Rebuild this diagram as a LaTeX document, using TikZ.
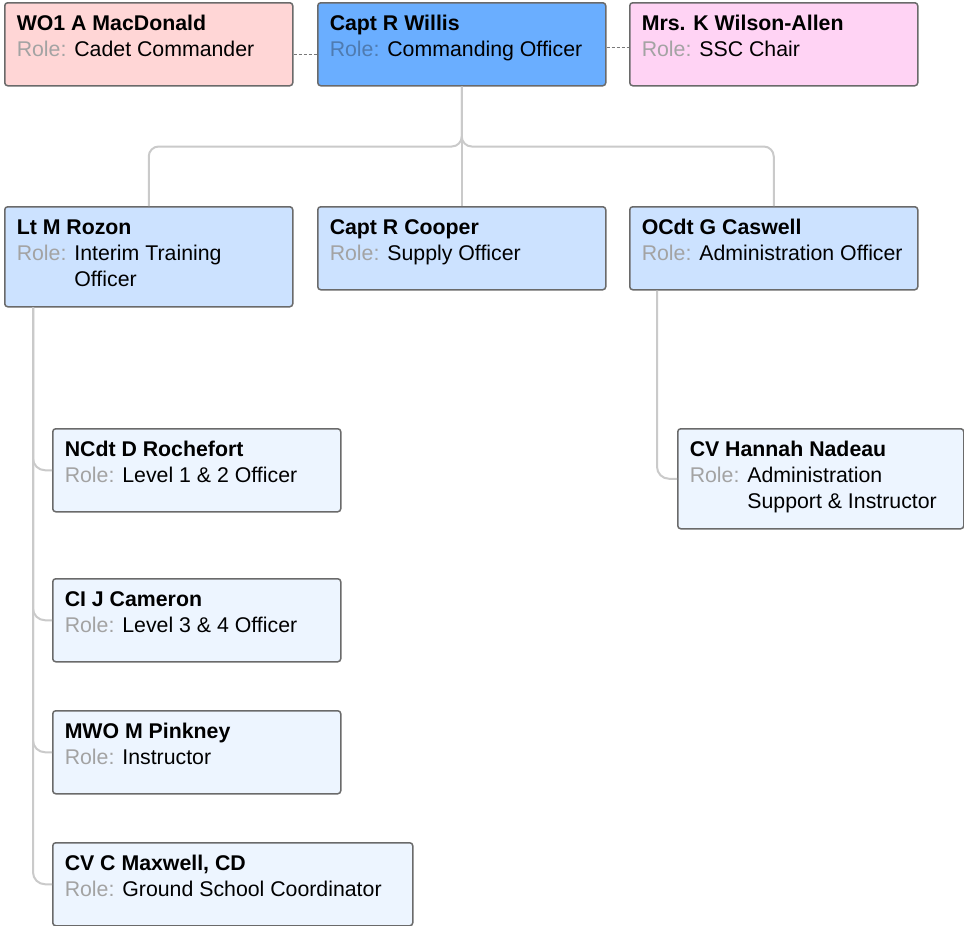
\documentclass[tikz,border=0pt]{standalone}
\usepackage{fontspec}
\setmainfont{Liberation Sans}
\usetikzlibrary{positioning}
\definecolor{cadetpink}{HTML}{FFD6D6}
\definecolor{cobl}{HTML}{6AAEFF}
\definecolor{sscpink}{HTML}{FFD3F4}
\definecolor{officerblue}{HTML}{CCE2FF}
\definecolor{staffblue}{HTML}{EDF5FF}
\definecolor{cardline}{HTML}{6A6A6A}
\definecolor{linkgray}{HTML}{CACACA}
\definecolor{rolegray}{HTML}{A3A3A3}
\definecolor{roleblue}{HTML}{4F7BB0}
\newcommand{\cardtext}[3]{\makebox[#1][l]{\begin{tabular}[t]{@{}l@{}}\textbf{#2}\\#3\end{tabular}}}
\newcommand{\roletag}{\textcolor{rolegray}{Role:} }
\newcommand{\twolines}[2]{\begin{tabular}[t]{@{}l@{}}#1\\#2\end{tabular}}
\tikzset{
    x=1pt, y=-1pt, % pixel-like grid, y downwards
    card/.style={draw=cardline, line width=1.5pt, rounded corners=3pt,
        anchor=north west, inner xsep=12pt, inner ysep=0pt,
        text height=28pt, text depth=55pt,
        font=\fontsize{21.3}{26}\selectfont}, % two-line cards
    tallcard/.style={card, text depth=72pt}, % three-line cards
    tree/.style={draw=linkgray, line width=2pt, rounded corners=10pt},
    side/.style={draw=cardline!90, line width=1pt, dash pattern=on 3pt off 2pt},
}
\begin{document}
\begin{tikzpicture}
    \useasboundingbox (0,0) rectangle (964,926);

    % top row
    \node[card, fill=cadetpink] (macdonald) at (4,2)
        {\cardtext{264pt}{WO1 A MacDonald}{\roletag Cadet Commander}};
    \node[card, fill=cobl] (willis) at (317,2)
        {\cardtext{264pt}{Capt R Willis}{\textcolor{roleblue}{Role:} Commanding Officer}};
    \node[card, fill=sscpink] (wilson) at (629,2)
        {\cardtext{264pt}{Mrs. K Wilson-Allen}{\roletag SSC Chair}};

    % officers
    \node[tallcard, fill=officerblue] (rozon) at (4,206)
        {\cardtext{264pt}{Lt M Rozon}{\roletag\twolines{Interim Training}{Officer}}};
    \node[card, fill=officerblue] (cooper) at (317,206)
        {\cardtext{264pt}{Capt R Cooper}{\roletag Supply Officer}};
    \node[card, fill=officerblue] (caswell) at (629,206)
        {\cardtext{264pt}{OCdt G Caswell}{\roletag Administration Officer}};

    % staff
    \node[card, fill=staffblue] (rochefort) at (52,428)
        {\cardtext{264pt}{NCdt D Rochefort}{\roletag Level 1 \& 2 Officer}};
    \node[card, fill=staffblue] (cameron) at (52,578)
        {\cardtext{264pt}{CI J Cameron}{\roletag Level 3 \& 4 Officer}};
    \node[card, fill=staffblue] (pinkney) at (52,710)
        {\cardtext{264pt}{MWO M Pinkney}{\roletag Instructor}};
    \node[card, fill=staffblue] (maxwell) at (52,842)
        {\cardtext{336pt}{CV C Maxwell, CD}{\roletag Ground School Coordinator}};
    \node[tallcard, fill=staffblue] (nadeau) at (677,428)
        {\cardtext{262pt}{CV Hannah Nadeau}{\roletag\twolines{Administration}{Support \& Instructor}}};

    % links
    \draw[side] ([yshift=-10pt]macdonald.east) -- ([yshift=-10pt]willis.west);
    \draw[side] ([yshift=-3pt]willis.east) -- ([yshift=-3pt]wilson.west);

    \draw[tree] (willis.south) -- ++(0,60) -| (rozon.north);
    \draw[tree] (willis.south) -- ++(0,60) -| (caswell.north);
    \draw[tree] (willis.south) -- (cooper.north);

    \draw[tree, rounded corners=12pt] ([xshift=29pt]rozon.south west) |- (rochefort.west);
    \draw[tree, rounded corners=12pt] ([xshift=29pt]rozon.south west) |- (cameron.west);
    \draw[tree, rounded corners=12pt] ([xshift=29pt]rozon.south west) |- (pinkney.west);
    \draw[tree, rounded corners=12pt] ([xshift=29pt]rozon.south west) |- (maxwell.west);
    \draw[tree, rounded corners=12pt] ([xshift=28pt]caswell.south west) |- (nadeau.west);
\end{tikzpicture}
\end{document}
